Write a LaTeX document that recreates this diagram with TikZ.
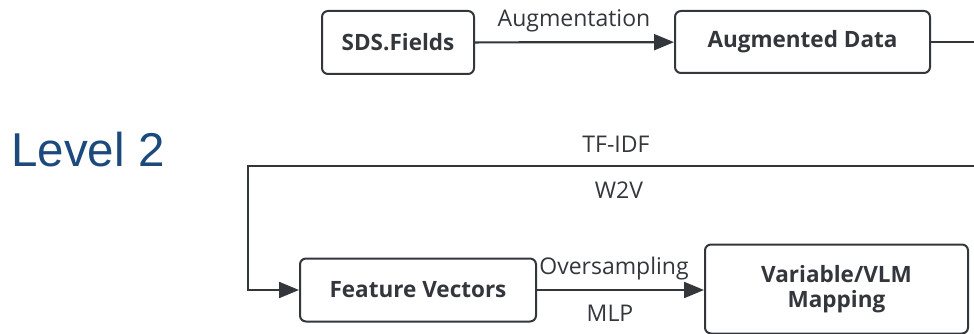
\documentclass[tikz,border=0pt]{standalone}
\usepackage{fontspec}
\setmainfont{Open Sans}
\newfontfamily\levelfont{Liberation Sans}
\usetikzlibrary{arrows.meta}
\definecolor{boxgray}{RGB}{51,55,60}
\definecolor{levelblue}{RGB}{28,74,124}

\begin{document}
\begin{tikzpicture}[x=1pt,y=-1pt,
  stagebox/.style={draw=boxgray,line width=2pt,rounded corners=6pt,fill=white,
    font=\fontsize{22.5}{25}\selectfont\bfseries,text=boxgray,align=center,
    inner sep=0pt},
  flow/.style={draw=boxgray,line width=2.2pt,-{Triangle[length=20pt,width=16pt]}},
  flowlabel/.style={font=\fontsize{23}{25}\selectfont,text=boxgray,inner sep=0pt}]
\useasboundingbox (0,0) rectangle (974,334);
\node[font=\levelfont\fontsize{47.5}{50}\selectfont,text=levelblue,inner sep=0pt] (lvl) at (88,150) {Level 2};
\node[stagebox,minimum width=152pt,minimum height=63pt] (sds) at (398,42.5) {SDS.Fields};
\node[stagebox,minimum width=255pt,minimum height=62pt] (aug) at (802.5,42) {Augmented Data};
\node[stagebox,minimum width=236pt,minimum height=63pt] (fv) at (418,290) {Feature Vectors};
\node[stagebox,minimum width=263pt,minimum height=89pt] (vlm) at (836.5,289) {Variable/VLM\\Mapping};
\coordinate (augout) at (974,42);
\coordinate (tfin) at (974,166);
\coordinate (tfcorner) at (248,166);
\draw[flow] (sds) -- (aug);
\node[flowlabel] (auglbl) at (574,21) {Augmentation};
\draw[draw=boxgray,line width=2.2pt] (aug) -- (augout);
\draw[flow] (tfin) -- (tfcorner) |- (fv);
\node[flowlabel] (tflbl) at (616,144) {TF-IDF};
\node[flowlabel] (w2vlbl) at (619,190) {W2V};
\draw[flow] (fv) -- (fv -| vlm.west);
\node[flowlabel] (oslbl) at (614,269) {Oversampling};
\node[flowlabel] (mlplbl) at (610,313) {MLP};
\end{tikzpicture}
\end{document}
